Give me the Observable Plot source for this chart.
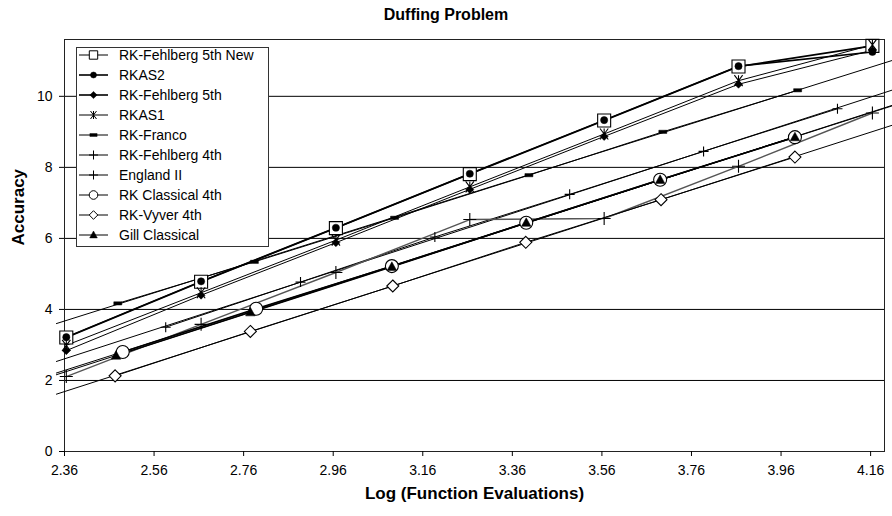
<!DOCTYPE html>
<html><head><meta charset="utf-8">
<script src="https://cdn.jsdelivr.net/npm/d3@7"></script>
<script src="https://cdn.jsdelivr.net/npm/@observablehq/plot@0.6"></script>
<style>
body{margin:0;background:#fff;font-family:"Liberation Sans",Arial,sans-serif;}
#wrap{position:relative;width:892px;height:516px;overflow:hidden;background:#fff;}
#title{height:30px;line-height:30px;text-align:center;font-weight:bold;font-size:16px;color:#000;}
#legend{position:absolute;left:76px;top:47px;}
</style></head><body>
<div id="wrap"><div id="title">Duffing Problem</div><div id="chart"></div><svg id="legend"></svg></div>
<script>
// ---- data ----
const xTicks = [2.36, 2.56, 2.76, 2.96, 3.16, 3.36, 3.56, 3.76, 3.96, 4.16];
const yTicks = [0, 2, 4, 6, 8, 10];
const xMain = [2.364, 2.665, 2.966, 3.265, 3.565, 3.865, 4.164];
const rkFehlberg5New = [3.21, 4.78, 6.29, 7.81, 9.32, 10.84, 11.42];
const rkas2 = [3.22, 4.79, 6.30, 7.82, 9.33, 10.85, 11.25];
const rkFehlberg5 = [2.84, 4.40, 5.88, 7.38, 8.87, 10.34, 11.30];
const rkas1 = [2.99, 4.47, 5.95, 7.45, 8.94, 10.44, 11.45];
const englandII = [2.11, 3.58, 5.04, 6.53, 6.56, 8.03, 9.53];
const xFranco = [2.479, 2.784, 3.097, 3.397, 3.696, 3.997];
const rkFranco = [4.17, 5.34, 6.58, 7.78, 9.00, 10.17];
const xFehlberg4 = [2.586, 2.887, 3.187, 3.488, 3.787, 4.086];
const rkFehlberg4 = [3.50, 4.77, 6.04, 7.24, 8.45, 9.65];
const xClassical = [2.490, 2.788, 3.091, 3.391, 3.690, 3.991];
const rkClassical4 = [2.80, 4.02, 5.22, 6.44, 7.65, 8.85];
const xGill = [2.475, 2.775, 3.091, 3.391, 3.690, 3.991];
const gillClassical = [2.70, 3.92, 5.20, 6.44, 7.65, 8.85];
const xVyver = [2.473, 2.775, 3.093, 3.390, 3.692, 3.991];
const rkVyver4 = [2.13, 3.38, 4.66, 5.89, 7.09, 8.29];
const trendRange = [2.342, 4.215];
const legendNames = ["RK-Fehlberg 5th New","RKAS2","RK-Fehlberg 5th","RKAS1","RK-Franco","RK-Fehlberg 4th","England II","RK Classical 4th","RK-Vyver 4th","Gill Classical"];

// ---- symbols ----
const R = s => Math.sqrt(s / Math.PI);
const sym = {
  square: {draw(c, s){const r=R(s); c.rect(-r,-r,2*r,2*r);}},
  circle: d3.symbolCircle,
  diamond: {draw(c, s){const r=R(s); c.moveTo(0,-r); c.lineTo(r,0); c.lineTo(0,r); c.lineTo(-r,0); c.closePath();}},
  triangle: {draw(c, s){const r=R(s); c.moveTo(0,-r); c.lineTo(r*0.95,r*0.72); c.lineTo(-r*0.95,r*0.72); c.closePath();}},
  dash: {draw(c, s){const r=R(s); c.rect(-r,-r*0.4,2*r,r*0.8);}},
  plus: {draw(c, s){const r=R(s); c.moveTo(-r,0); c.lineTo(r,0); c.moveTo(0,-r); c.lineTo(0,r);}},
  star: {draw(c, s){const r=R(s), k=r*0.75; c.moveTo(-k,-r); c.lineTo(k,r); c.moveTo(k,-r); c.lineTo(-k,r); c.moveTo(0,-r); c.lineTo(0,r);}}
};

const rows = (xs, ys) => xs.map((x, i) => ({x, y: ys[i]}));
const series = {
  "RK-Fehlberg 5th New": {data: rows(xMain, rkFehlberg5New), symbol: sym.square, r: 6.5, lr: 4.2, fill: "white", sw: 1.6},
  "RKAS2": {data: rows(xMain, rkas2), symbol: sym.circle, r: 3.6, lr: 3, fill: "black", sw: 1.6},
  "RK-Fehlberg 5th": {data: rows(xMain, rkFehlberg5), symbol: sym.diamond, r: 4, lr: 3.6, fill: "black", sw: 1},
  "RKAS1": {data: rows(xMain, rkas1), symbol: sym.star, r: 5.5, lr: 4, fill: "none", sw: 1},
  "RK-Franco": {data: rows(xFranco, rkFranco), symbol: sym.dash, r: 4, lr: 3.6, fill: "black", sw: 1, trend: true},
  "RK-Fehlberg 4th": {data: rows(xFehlberg4, rkFehlberg4), symbol: sym.plus, r: 5, lr: 4.5, fill: "none", sw: 1, trend: true},
  "England II": {data: rows(xMain, englandII), symbol: sym.plus, r: 6.5, lr: 4.5, fill: "none", sw: 1.4, color: "#555"},
  "RK Classical 4th": {data: rows(xClassical, rkClassical4), symbol: sym.circle, r: 6.5, lr: 4.3, fill: "white", sw: 1.5, trend: true},
  "RK-Vyver 4th": {data: rows(xVyver, rkVyver4), symbol: sym.diamond, r: 6, lr: 4.3, fill: "white", sw: 1, trend: true},
  "Gill Classical": {data: rows(xGill, gillClassical), symbol: sym.triangle, r: 5, lr: 4, fill: "black", sw: 1.5, trend: true}
};
const markerOrder = ["England II","RK-Fehlberg 4th","RK-Franco","RK-Vyver 4th","RK Classical 4th","Gill Classical","RK-Fehlberg 5th New","RK-Fehlberg 5th","RKAS1","RKAS2"];

function trend(data) {
  const mx = d3.mean(data, d => d.x), my = d3.mean(data, d => d.y);
  const b = d3.sum(data, d => (d.x - mx) * (d.y - my)) / d3.sum(data, d => (d.x - mx) ** 2);
  return trendRange.map(x => ({x, y: my + b * (x - mx)}));
}

const marks = [
  Plot.gridY(yTicks.filter(d => d > 0), {stroke: "black", strokeOpacity: 1, strokeWidth: 1}),
  Plot.frame({stroke: "#222", strokeWidth: 1}),
  Plot.axisX({ticks: xTicks, tickFormat: d => d.toFixed(2), tickSize: 5, tickPadding: 9, fontSize: 14, label: null}),
  Plot.axisY({ticks: yTicks, tickSize: 5, tickPadding: 7, fontSize: 14, label: null})
];
for (const name of legendNames) {
  const s = series[name];
  if (s.trend) marks.push(Plot.line(trend(s.data), {x: "x", y: "y", stroke: "black", strokeWidth: 1}));
}
for (const name of legendNames) {
  const s = series[name];
  marks.push(Plot.line(s.data, {x: "x", y: "y", stroke: s.color || "black", strokeWidth: s.sw}));
}
for (const name of markerOrder) {
  const s = series[name];
  marks.push(Plot.dot(s.data, {x: "x", y: "y", symbol: s.symbol, r: s.r,
    fill: s.fill, stroke: "black", strokeWidth: s.fill === "black" ? 0.5 : 1.1}));
}
marks.push(Plot.text(["Log (Function Evaluations)"], {frameAnchor: "bottom", dy: 47, fontSize: 17, fontWeight: "bold", fill: "black"}));
marks.push(Plot.text(["Accuracy"], {frameAnchor: "left", dx: -46, rotate: -90, fontSize: 17, fontWeight: "bold", fill: "black"}));

const chart = Plot.plot({
  width: 892, height: 486,
  marginTop: 9, marginBottom: 65, marginLeft: 64, marginRight: 8,
  style: {fontFamily: "'Liberation Sans', Arial, sans-serif", fontSize: "14px", color: "black", background: "white", overflow: "visible"},
  x: {domain: [2.36, 4.191], label: null},
  y: {domain: [0, 11.6], label: null},
  marks
});
document.getElementById("chart").appendChild(chart);

// ---- legend ----
const lw = 192, lh = 199, rowH = 20;
const lg = d3.select("#legend").attr("width", lw + 1).attr("height", lh + 1);
lg.append("rect").attr("x", 0.5).attr("y", 0.5).attr("width", lw).attr("height", lh)
  .attr("fill", "white").attr("stroke", "#333");
legendNames.forEach((name, i) => {
  const s = series[name];
  const cy = 8 + i * rowH;
  const g = lg.append("g").attr("transform", `translate(0,${cy})`);
  g.append("line").attr("x1", 3).attr("x2", 32).attr("y1", 0).attr("y2", 0)
    .attr("stroke", "black").attr("stroke-width", name === "RKAS2" || name === "RK-Fehlberg 5th" ? 1.6 : 1);
  g.append("path").attr("transform", "translate(17.5,0)")
    .attr("d", d3.symbol(s.symbol, Math.PI * s.lr * s.lr)())
    .attr("fill", s.fill).attr("stroke", "black").attr("stroke-width", s.fill === "black" ? 0.5 : 1);
  g.append("text").attr("x", 43).attr("y", 0).attr("dy", "0.35em")
    .attr("font-size", 14).attr("font-family", "'Liberation Sans', Arial, sans-serif").text(name);
});
</script>
</body></html>
